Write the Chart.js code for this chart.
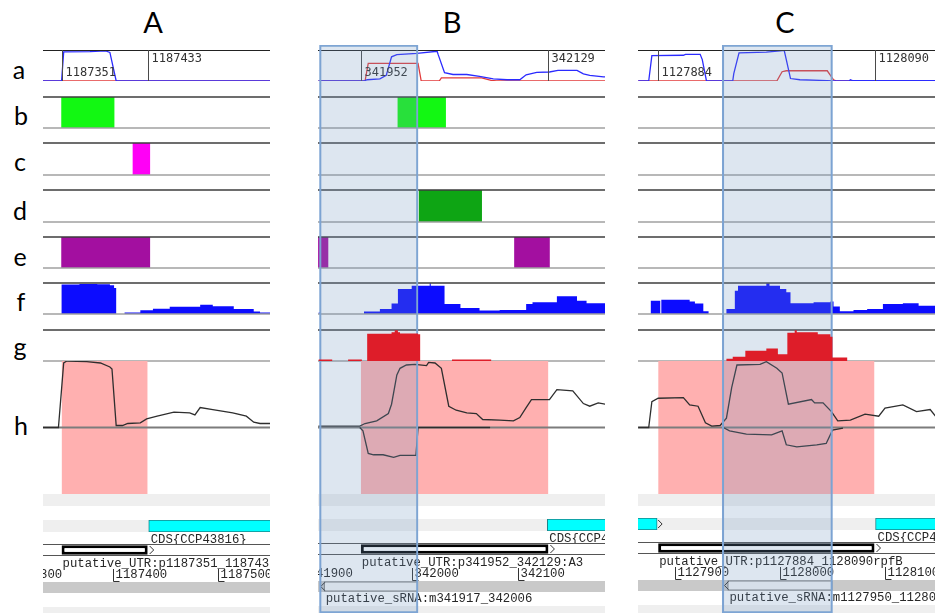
<!DOCTYPE html>
<html>
<head>
<meta charset="utf-8">
<script src="https://cdn.jsdelivr.net/npm/chart.js@4.4.1/dist/chart.umd.min.js"></script>
<style>
html, body { margin: 0; padding: 0; background: #fff; }
#stage { position: relative; width: 938px; height: 613px; overflow: hidden; }
#stage canvas { position: absolute; }
.band { position: absolute; }
</style>
</head>
<body>
<div id="stage">
<svg width="938" height="613" style="position:absolute;left:0;top:0" font-family="Lato, 'Open Sans', sans-serif" fill="#000">
  <text x="153" y="33" font-size="29" text-anchor="middle">A</text>
  <text x="452" y="33" font-size="29" text-anchor="middle">B</text>
  <text x="785" y="33" font-size="29" text-anchor="middle">C</text>
  <text x="19" y="79" font-size="25" text-anchor="middle">a</text>
  <text x="21" y="125" font-size="25" text-anchor="middle">b</text>
  <text x="20" y="171" font-size="25" text-anchor="middle">c</text>
  <text x="20" y="220" font-size="25" text-anchor="middle">d</text>
  <text x="20" y="266" font-size="25" text-anchor="middle">e</text>
  <text x="21" y="311" font-size="25" text-anchor="middle">f</text>
  <text x="20" y="356" font-size="25" text-anchor="middle">g</text>
  <text x="21" y="435" font-size="25" text-anchor="middle">h</text>
</svg>
</div>
<script>
// ---- panel A ----
const A_view = [1187333.3, 1187549.5];
const A_utr = [1187351, 1187433];
const A_aBlue = [[1187333,0],[1187351,0],[1187353,94],[1187378,95],[1187393,97],[1187397,92],[1187403,0],[1187550,0]];
const A_aRed = [[1187333,0],[1187550,0]];
const A_b = [[1187351,1187401]];
const A_c = [[1187419,1187435]];
const A_d = [];
const A_e = [[1187351,1187435]];
const A_f = [[1187333,0],[1187351,95],[1187368,97],[1187385,96],[1187397,93],[1187401,84],[1187403,0],[1187411,5],[1187426,12],[1187438,17],[1187454,23],[1187483,30],[1187495,25],[1187515,16],[1187534,8],[1187540,5],[1187550,5]];
const A_g = [];
const A_hUp = [[1187333,0],[1187348,0],[1187353,97],[1187356,100],[1187375,99],[1187388,97],[1187397,91],[1187399,88],[1187403,3],[1187409,3],[1187414,6],[1187426,7],[1187432,13],[1187442,17],[1187458,23],[1187473,22],[1187478,19],[1187483,30],[1187495,27],[1187514,22],[1187527,17],[1187534,8],[1187540,6],[1187550,6]];
const A_hDown = [];
const A_cds = [[1187434,1187700]];
const A_cdsLabels = ['CDS{CCP43816}'];
const A_utrLabel = 'putative_UTR:p1187351_1187433';
const A_ruler = [1187300, 1187400, 1187500];

// ---- panel B ----
const B_view = [341911.6, 342182.4];
const B_utr = [341952, 342129];
const B_aBlue = [[341912,0],[341955,0],[341958,4],[341970,7],[341976,18],[341981,78],[341986,85],[342005,89],[342024,96],[342025,85],[342031,27],[342039,21],[342052,21],[342064,15],[342077,7],[342090,4],[342102,4],[342108,20],[342118,28],[342130,29],[342138,34],[342156,34],[342162,23],[342168,18],[342181,13],[342183,13]];
const B_aRed = [[341912,0],[341956,0],[341959,57],[342006,57],[342009,0],[342026,0],[342028,10],[342066,10],[342075,2],[342080,0],[342183,0]];
const B_b = [[341987,342032]];
const B_c = [];
const B_d = [[342007,342066]];
const B_e = [[341912,341921],[342097,342130]];
const B_f = [[341912,5],[341914,0],[341955,8],[341970,16],[341981,34],[341987,81],[342000,91],[342017,99],[342018,91],[342031,32],[342046,19],[342064,11],[342083,13],[342108,32],[342114,38],[342137,57],[342156,43],[342165,35],[342183,35]];
const B_g = [[341912,5],[341925,0],[341940,5],[341953,0],[341958,88],[341981,93],[341984,99],[341987,93],[341989,89],[342006,86],[342008,0],[342038,5],[342075,0],[342183,0]];
const B_hUp = [[341912,2],[341951,2],[341956,6],[341967,10],[341978,21],[341981,35],[341986,79],[341989,89],[341995,94],[342003,95],[342014,93],[342016,98],[342022,97],[342028,89],[342035,32],[342042,26],[342052,22],[342061,21],[342067,12],[342083,11],[342096,10],[342102,15],[342108,30],[342113,42],[342130,42],[342137,57],[342152,55],[342162,36],[342168,32],[342176,37],[342183,35]];
const B_hDown = [[341951,0],[341954,-5],[341959,-39],[341964,-41],[341973,-41],[341983,-45],[341989,-42],[342004,-42],[342006,0],[342074,0]];
const B_cds = [[342128,342400]];
const B_cdsLabels = ['CDS{CCP4...'];
const B_utrLabel = 'putative_UTR:p341952_342129:A3';
const B_ruler = [341900, 342000, 342100];
const B_srna = [341917, 342006];
const B_srnaLabel = 'putative_sRNA:m341917_342006';
const B_highlight = [341913, 342006];

// ---- panel C ----
const C_view = [1127864.8, 1128147.6];
const C_utr = [1127884, 1128090];
const C_aBlue = [[1127865,0],[1127875,0],[1127878,82],[1127908,83],[1127910,86],[1127924,86],[1127926,69],[1127930,0],[1127955,0],[1127956,24],[1127961,91],[1127987,93],[1128000,97],[1128004,99],[1128006,69],[1128010,8],[1128019,4],[1128038,2],[1128051,0],[1128066,0],[1128067,4],[1128069,1],[1128148,1]];
const C_aRed = [[1127865,0],[1127997,0],[1128002,30],[1128006,33],[1128045,33],[1128051,4],[1128054,0],[1128148,0]];
const C_b = [];
const C_c = [];
const C_d = [];
const C_e = [];
const C_f = [[1127865,0],[1127877,43],[1127886,0],[1127887,46],[1127914,40],[1127919,34],[1127927,9],[1127932,0],[1127949,16],[1127957,75],[1127960,91],[1127987,99],[1127990,91],[1128000,81],[1128006,70],[1128010,35],[1128032,38],[1128048,40],[1128051,24],[1128057,9],[1128070,13],[1128083,16],[1128098,32],[1128117,35],[1128132,27],[1128148,27]];
const C_g = [[1127865,0],[1127949,7],[1127955,14],[1127967,33],[1127987,40],[1127998,22],[1128007,91],[1128014,99],[1128016,93],[1128036,86],[1128048,78],[1128050,11],[1128064,0],[1128148,0]];
const C_hUp = [[1127865,0],[1127875,0],[1127878,39],[1127884,44],[1127908,45],[1127914,34],[1127922,32],[1127929,7],[1127935,2],[1127943,3],[1127949,14],[1127954,60],[1127959,94],[1127981,95],[1127987,99],[1127997,89],[1128002,82],[1128008,35],[1128030,42],[1128033,37],[1128041,37],[1128049,24],[1128055,10],[1128067,11],[1128081,20],[1128094,17],[1128100,29],[1128117,34],[1128130,24],[1128143,27],[1128148,17]];
const C_hDown = [[1127946,0],[1127952,-5],[1127968,-10],[1127992,-11],[1128002,-5],[1128006,-26],[1128016,-29],[1128035,-26],[1128044,-24],[1128050,-4],[1128060,-1]];
const C_cds = [[1127700,1127883],[1128091,1128400]];
const C_cdsLabels = ['CDS{CCP4...', 'CDS{CCP4...'];
const C_utrLabel = 'putative_UTR:p1127884_1128090rpfB';
const C_ruler = [1127900, 1128000, 1128100];
const C_srna = [1127950, 1128050];
const C_srnaLabel = 'putative_sRNA:m1127950_1128050';
const C_highlight = [1127945, 1128050];

const panels = [
  { left: 43, width: 227, dy: 1, view: A_view, utr: A_utr, aBlue: A_aBlue, aRed: A_aRed, b: A_b, c: A_c, d: A_d, e: A_e, f: A_f, g: A_g, hUp: A_hUp, hDown: A_hDown, cds: A_cds, cdsLabels: A_cdsLabels, utrLabel: A_utrLabel, ruler: A_ruler, srna: null, srnaLabel: '', highlight: null },
  { left: 318, width: 287, dy: 0, view: B_view, utr: B_utr, aBlue: B_aBlue, aRed: B_aRed, b: B_b, c: B_c, d: B_d, e: B_e, f: B_f, g: B_g, hUp: B_hUp, hDown: B_hDown, cds: B_cds, cdsLabels: B_cdsLabels, utrLabel: B_utrLabel, ruler: B_ruler, srna: B_srna, srnaLabel: B_srnaLabel, highlight: B_highlight },
  { left: 638, width: 297, dy: -1, view: C_view, utr: C_utr, aBlue: C_aBlue, aRed: C_aRed, b: C_b, c: C_c, d: C_d, e: C_e, f: C_f, g: C_g, hUp: C_hUp, hDown: C_hDown, cds: C_cds, cdsLabels: C_cdsLabels, utrLabel: C_utrLabel, ruler: C_ruler, srna: C_srna, srnaLabel: C_srnaLabel, highlight: C_highlight }
];

const MONO = '"Liberation Mono", "Courier New", monospace';
const stage = document.getElementById('stage');

function addCanvas(left, top, w, h, z) {
  const c = document.createElement('canvas');
  c.width = w; c.height = h;
  c.style.cssText = `left:${left}px;top:${top}px;width:${w}px;height:${h}px;z-index:${z || 1}`;
  stage.appendChild(c);
  return c;
}

function addBand(left, top, w, h, color) {
  const d = document.createElement('div');
  d.className = 'band';
  d.style.cssText = `left:${left}px;top:${top}px;width:${w}px;height:${h}px;background:${color}`;
  stage.appendChild(d);
}

const xy = arr => arr.map(([x, y]) => ({ x, y }));

function baseOpts(p, yScale, pad, extra) {
  return Object.assign({
    responsive: false, animation: false, devicePixelRatio: 1, events: [],
    layout: { padding: { left: 0, right: 0, top: pad[0], bottom: pad[1] } },
    plugins: { legend: { display: false }, tooltip: { enabled: false } },
    elements: { point: { radius: 0 }, line: { tension: 0 } },
    scales: {
      x: { type: 'linear', min: p.view[0], max: p.view[1], display: false },
      y: yScale
    }
  }, extra || {});
}

// track background / top and bottom rules
function frame(o) {
  return {
    id: 'frame',
    beforeDatasetsDraw(chart) {
      if (!o.fill) return;
      const { ctx, chartArea: a } = chart;
      ctx.save();
      ctx.fillStyle = o.fill;
      ctx.fillRect(a.left, a.top, a.right - a.left, a.bottom - a.top);
      ctx.restore();
    },
    afterDatasetsDraw(chart) {
      const { ctx, chartArea: a } = chart;
      ctx.save();
      const rule = (y, c, w) => {
        ctx.strokeStyle = c; ctx.lineWidth = w;
        ctx.beginPath(); ctx.moveTo(a.left, y); ctx.lineTo(a.right, y); ctx.stroke();
      };
      if (o.top) rule(a.top + (o.topWidth === 1 ? 0.5 : 0), o.top, o.topWidth || 1.5);
      if (o.bottom) rule(a.bottom - (o.bottomWidth === 1 ? 0.5 : 0), o.bottom, o.bottomWidth || 1.5);
      ctx.restore();
    }
  };
}

function chevron(ctx, x, yc, dir) {
  ctx.beginPath();
  ctx.moveTo(x, yc - 4);
  ctx.lineTo(x + 4 * dir, yc);
  ctx.lineTo(x, yc + 4);
  ctx.stroke();
}

const bar1 = (intervals, style) => Object.assign({
  data: intervals.map(v => ({ x: v, y: 'r' })),
  borderWidth: 0, barPercentage: 1, categoryPercentage: 1
}, style);

// a: coverage lines with UTR boundary markers
function coverageTrack(p) {
  const top = 50, bottom = 81, pad = 3;
  const cv = addCanvas(p.left, top - pad, p.width, bottom - top + 2 * pad);
  new Chart(cv, {
    type: 'line',
    data: { datasets: [
      { data: xy(p.aBlue), borderColor: '#2b2bff', borderWidth: 1.3 },
      { data: xy(p.aRed), borderColor: '#e23a3a', borderWidth: 1.3 }
    ] },
    options: baseOpts(p, { type: 'linear', min: 0, max: 100, display: false }, [pad, pad]),
    plugins: [frame({ top: '#222', topWidth: 1 }), {
      id: 'markers',
      afterDatasetsDraw(chart) {
        const { ctx, chartArea: a, scales: { x } } = chart;
        ctx.save();
        ctx.strokeStyle = '#4a4a4a'; ctx.lineWidth = 1;
        ctx.font = '12px "DejaVu Sans Mono", monospace';
        ctx.fillStyle = '#333'; ctx.textBaseline = 'middle';
        p.utr.forEach((v, i) => {
          const px = Math.round(x.getPixelForValue(v)) + 0.5;
          ctx.beginPath(); ctx.moveTo(px, a.top); ctx.lineTo(px, a.bottom); ctx.stroke();
          ctx.fillText(String(v), px + 3, i === 0 ? a.top + 23 : a.top + 9);
        });
        ctx.restore();
      }
    }]
  });
}

// b-e: interval blocks
function blockTrack(p, top, bottom, intervals, color) {
  const pad = 2;
  const cv = addCanvas(p.left, top - pad, p.width, bottom - top + 2 * pad);
  new Chart(cv, {
    type: 'bar',
    data: { labels: ['r'], datasets: [bar1(intervals, { backgroundColor: color })] },
    options: baseOpts(p, { type: 'category', display: false }, [pad, pad], { indexAxis: 'y' }),
    plugins: [frame({ top: '#3c3c3c', bottom: '#a0a0a0' })]
  });
}

// f-g: stepped coverage areas
function areaTrack(p, top, bottom, steps, color, z) {
  const pad = 2;
  const cv = addCanvas(p.left, top - pad, p.width, bottom - top + 2 * pad, z);
  new Chart(cv, {
    type: 'line',
    data: { datasets: [{ data: xy(steps), stepped: true, fill: 'origin', backgroundColor: color, borderWidth: 0 }] },
    options: baseOpts(p, { type: 'linear', min: 0, max: 100, display: false }, [pad, pad]),
    plugins: z ? [] : [frame({ top: '#3c3c3c', bottom: '#a0a0a0' })]
  });
}

// h: strand profile with UTR shading
function profileTrack(p) {
  const top = 361, bottom = 494, pad = 2;
  const cv = addCanvas(p.left, top - pad, p.width, bottom - top + 2 * pad);
  new Chart(cv, {
    type: 'line',
    data: { datasets: [
      { data: xy(p.hUp), borderColor: '#2e2e2e', borderWidth: 1.3 },
      { data: xy(p.hDown), borderColor: '#2e2e2e', borderWidth: 1.3 },
      { data: [{ x: p.utr[0], y: 100 }, { x: p.utr[1], y: 100 }], fill: { value: -100 }, backgroundColor: '#ffb0b0', borderWidth: 0 }
    ] },
    options: baseOpts(p, { type: 'linear', min: -100, max: 100, display: false }, [pad, pad]),
    plugins: [{
      id: 'zero',
      afterDatasetDraw(chart, args) {
        if (args.index !== 2) return;
        const { ctx, chartArea: a, scales: { y } } = chart;
        const py = y.getPixelForValue(0);
        ctx.save();
        ctx.strokeStyle = '#7c7c7c'; ctx.lineWidth = 2;
        ctx.beginPath(); ctx.moveTo(a.left, py); ctx.lineTo(a.right, py); ctx.stroke();
        ctx.restore();
      }
    }]
  });
}

function cdsRow(p) {
  const top = 519 + p.dy, h = 12, padB = 14;
  const cv = addCanvas(p.left, top, p.width, h + padB);
  new Chart(cv, {
    type: 'bar',
    data: { labels: ['r'], datasets: [bar1(p.cds, { backgroundColor: '#00ffff', borderColor: '#17858a', borderWidth: 1, borderSkipped: false })] },
    options: baseOpts(p, { type: 'category', display: false }, [0, padB], { indexAxis: 'y' }),
    plugins: [frame({ fill: '#efefef' }), {
      id: 'cdsText',
      afterDatasetsDraw(chart) {
        const { ctx, chartArea: a, scales: { x } } = chart;
        ctx.save();
        ctx.font = '12.3px ' + MONO; ctx.fillStyle = '#262626'; ctx.textBaseline = 'middle';
        ctx.strokeStyle = '#333'; ctx.lineWidth = 1;
        p.cds.forEach((v, i) => {
          const s = x.getPixelForValue(v[0]), e = x.getPixelForValue(v[1]);
          ctx.fillText(p.cdsLabels[i], s + 2, a.bottom + 8);
          chevron(ctx, e + 1, (a.top + a.bottom) / 2, 1);
        });
        ctx.restore();
      }
    }]
  });
}

function utrRow(p) {
  const top = 543 + p.dy, h = 12, padB = 27;
  const cv = addCanvas(p.left, top, p.width, h + padB);
  new Chart(cv, {
    type: 'bar',
    data: { labels: ['r'], datasets: [bar1([p.utr], { backgroundColor: '#fff', borderColor: '#000', borderWidth: 3, borderSkipped: false, barPercentage: 0.78 })] },
    options: baseOpts(p, { type: 'category', display: false }, [0, padB], { indexAxis: 'y' }),
    plugins: [frame({ fill: '#fff', top: '#555', topWidth: 1, bottom: '#555', bottomWidth: 1 }), {
      id: 'utrText',
      afterDatasetsDraw(chart) {
        const { ctx, chartArea: a, scales: { x } } = chart;
        ctx.save();
        ctx.strokeStyle = '#333'; ctx.lineWidth = 1;
        chevron(ctx, x.getPixelForValue(p.utr[1]) + 2, (a.top + a.bottom) / 2, 1);
        ctx.font = '12.3px ' + MONO; ctx.fillStyle = '#262626'; ctx.textBaseline = 'middle';
        ctx.fillText(p.utrLabel, x.getPixelForValue(p.utr[0]) + 1, a.bottom + 8);
        p.ruler.forEach(t => {
          const px = Math.round(x.getPixelForValue(t)) + 0.5;
          ctx.beginPath();
          ctx.moveTo(px, a.bottom + 13); ctx.lineTo(px, a.bottom + 25.5); ctx.lineTo(px + 6, a.bottom + 25.5);
          ctx.stroke();
          ctx.fillText(String(t), px + 2, a.bottom + 19);
        });
        ctx.restore();
      }
    }]
  });
}

function srnaRow(p) {
  const top = 581 + p.dy, h = 11, padB = 14;
  const cv = addCanvas(p.left, top, p.width, h + padB);
  const iv = p.srna ? [p.srna] : [];
  new Chart(cv, {
    type: 'bar',
    data: { labels: ['r'], datasets: [bar1(iv, { backgroundColor: '#f6f6f6', borderColor: '#3a3a3a', borderWidth: 1, borderSkipped: false, barPercentage: 0.9 })] },
    options: baseOpts(p, { type: 'category', display: false }, [0, padB], { indexAxis: 'y' }),
    plugins: [frame({ fill: '#c9c9c9' }), {
      id: 'srnaText',
      afterDatasetsDraw(chart) {
        if (!p.srna) return;
        const { ctx, chartArea: a, scales: { x } } = chart;
        const s = x.getPixelForValue(p.srna[0]);
        ctx.save();
        ctx.strokeStyle = '#333'; ctx.lineWidth = 1;
        chevron(ctx, s + 1, (a.top + a.bottom) / 2, -1);
        ctx.font = '12.3px ' + MONO; ctx.fillStyle = '#262626'; ctx.textBaseline = 'middle';
        ctx.fillText(p.srnaLabel, s + 2, a.bottom + 7);
        ctx.restore();
      }
    }]
  });
}

function highlight(p) {
  if (!p.highlight) return;
  const cv = addCanvas(p.left, 45, p.width, 568, 10);
  cv.style.pointerEvents = 'none';
  new Chart(cv, {
    type: 'bar',
    data: { labels: ['r'], datasets: [bar1([p.highlight], { backgroundColor: 'rgba(113,151,192,0.24)', borderColor: '#7ea5d4', borderWidth: 1.5, borderSkipped: false })] },
    options: baseOpts(p, { type: 'category', display: false }, [0, 0], { indexAxis: 'y' })
  });
}

panels.forEach(p => {
  coverageTrack(p);
  blockTrack(p, 97, 128, p.b, '#12f812');
  blockTrack(p, 143, 175, p.c, '#ff00f6');
  blockTrack(p, 190, 222, p.d, '#0ea514');
  blockTrack(p, 237, 268, p.e, '#a30fa0');
  areaTrack(p, 283, 314, p.f, '#0c0cff');
  // g: rules stay under the selection tint, the red profile sits above it
  blockTrack(p, 330, 361, [], '#fff');
  areaTrack(p, 330, 361, p.g, '#de1d29', 11);
  profileTrack(p);
  addBand(p.left, 494, p.width, 12, '#efefef');
  cdsRow(p);
  utrRow(p);
  srnaRow(p);
  addBand(p.left, 606 + p.dy, p.width, 8, '#efefef');
  highlight(p);
});
</script>
</body>
</html>
